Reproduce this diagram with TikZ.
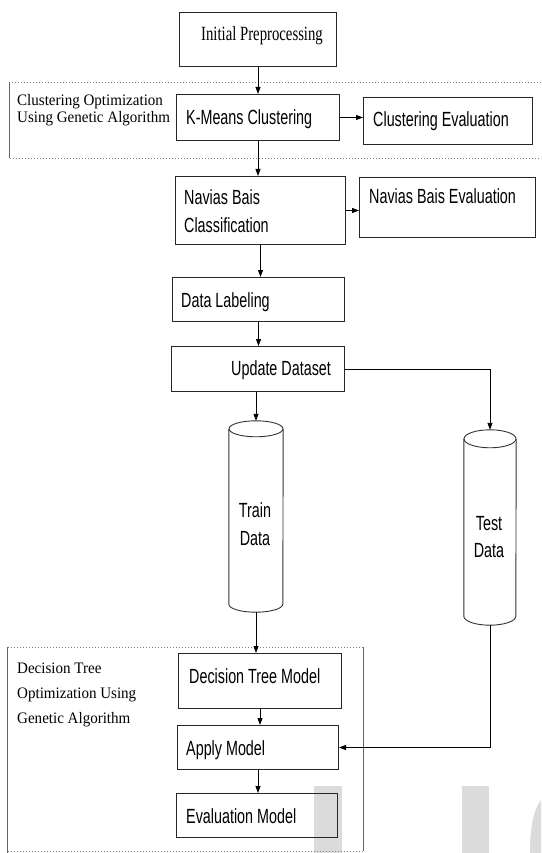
\documentclass[tikz,border=0pt]{standalone}
\usepackage{fontspec}
\usetikzlibrary{arrows.meta,calc,positioning}
\newfontfamily\boxfont[FakeStretch=0.7]{Liberation Sans}
\newfontfamily\headfont[FakeStretch=0.73]{Liberation Serif}
\newfontfamily\groupfont[FakeStretch=0.94]{Liberation Serif}
% cylinder outline round a store node: node, x radius, y radius
\newcommand{\storeoutline}[3]{%
  \draw[store line] ($(#1.north)+(0,#3)$) ellipse [x radius=#2,y radius=#3];
  \draw[store line] ($(#1.north west)+(0,#3)$) -- ($(#1.south west)-(0,#3)$)
    arc[start angle=180,end angle=0,x radius=#2,y radius=#3]
    -- ($(#1.north east)+(0,#3)$);
}
\tikzset{
  flow box/.style={draw=black!85,line width=1pt,inner sep=0pt,anchor=north west},
  flow text/.style={font=\boxfont\fontsize{20.5}{27.5}\selectfont,inner sep=0pt,
    anchor=base west,align=left},
  head text/.style={font=\headfont\fontsize{20.2}{24}\selectfont,inner sep=0pt,
    anchor=base west},
  group text/.style={font=\groupfont\fontsize{16}{17}\selectfont,inner sep=0pt,
    anchor=base west,align=left},
  data store/.style={rectangle,inner sep=0pt},
  store line/.style={draw=black!80,line width=0.9pt},
  flow arrow/.style={-{Triangle[length=7pt,width=5pt]},line width=0.9pt},
  group rule/.style={gray,line width=0.8pt,dash pattern=on 1pt off 2pt},
  group side/.style={black!60,line width=0.8pt},
  mark shade/.style={fill=black!14,draw=none},
}
\begin{document}
\begin{tikzpicture}[x=1pt,y=-1pt]
  \useasboundingbox (0,0) rectangle (541,853);
  % watermark remains at the foot of the page
  \fill[mark shade] (314,786) rectangle (342,853);
  \fill[mark shade] (462,786) rectangle (489,853);
  \fill[mark shade] (541,800) .. controls (533,810) and (530,830) .. (530,853)
    -- (541,853) -- cycle;

  % Preprocessing and clustering
  \node[flow box,minimum width=157,minimum height=54] (init) at (179,12) {};
  \node[head text] (initT) at (201,41) {Initial Preprocessing};
  \node[flow box,minimum width=163,minimum height=46] (km) at (176,94) {};
  \node[flow text] (kmT) at (186,125) {K-Means Clustering};
  \node[flow box,minimum width=169,minimum height=47] (ce) at (363,97) {};
  \node[flow text] (ceT) at (373,127) {Clustering Evaluation};

  % Classification and labeling
  \node[flow box,minimum width=170,minimum height=68] (nb) at (175,176) {};
  \node[flow text] (nbT) at (184,232) {Navias Bais\\Classification};
  \node[flow box,minimum width=176,minimum height=60] (nbe) at (359,177) {};
  \node[flow text] (nbeT) at (369,204) {Navias Bais Evaluation};
  \node[flow box,minimum width=172,minimum height=44] (dl) at (172,277) {};
  \node[flow text] (dlT) at (181,307) {Data Labeling};
  \node[flow box,minimum width=173,minimum height=45] (ud) at (171,346) {};
  \node[flow text] (udT) at (231,375) {Update Dataset};

  % Data stores
  \node[data store,minimum height=191,minimum width=54] (train) at (256,516.5) {};
  \storeoutline{train}{27}{8}
  \node[flow text,anchor=center,align=center] (trainT) at (255,524) {Train\\Data};
  \node[data store,minimum height=195,minimum width=52] (test) at (490,527.5) {};
  \storeoutline{test}{26}{9}
  \node[flow text,anchor=center,align=center] (testT) at (489,537) {Test\\Data};

  % Decision tree stage
  \node[flow box,minimum width=163,minimum height=55] (dtm) at (178,653) {};
  \node[flow text] (dtmT) at (189,683) {Decision Tree Model};
  \node[flow box,minimum width=161,minimum height=44] (am) at (177,725) {};
  \node[flow text] (amT) at (186,755) {Apply Model};
  \node[flow box,minimum width=161,minimum height=44] (em) at (176,793) {};
  \node[flow text] (emT) at (186,823) {Evaluation Model};

  % Optimization groups
  \draw[group rule] (12,82) -- (541,82);
  \draw[group rule] (10,158) -- (541,158);
  \draw[group side] (9,82) -- (9,158);
  \node[group text] (cgaT) at (17,123) {Clustering Optimization\\Using Genetic Algorithm};
  \draw[group rule] (8,647) -- (363,647);
  \draw[group rule] (8,851) -- (363,851);
  \draw[group side] (7,647) -- (7,853);
  \draw[group side] (363,647) -- (363,851);
  \node[group text,font=\groupfont\fontsize{16}{25}\selectfont] (dtgaT) at (17,723)
    {Decision Tree\\Optimization Using\\Genetic Algorithm};

  % Connectors
  \draw[flow arrow] (init.south) -- (init.south |- km.north);
  \draw[flow arrow] (km.east) -- (km.east -| ce.west);
  \draw[flow arrow] (km.south) -- (km.south |- nb.north);
  \draw[flow arrow] (nb.east) -- (nb.east -| nbe.west);
  \draw[flow arrow] (nb.south) -- (nb.south |- dl.north);
  \draw[flow arrow] (dl.south) -- (dl.south |- ud.north);
  \draw[flow arrow] (train.north |- ud.south) -- (train.north);
  \draw[flow arrow] (ud.east) -| (test.north);
  \draw[flow arrow] (train.south) -- (train.south |- dtm.north);
  \draw[flow arrow] (dtm.south) -- (dtm.south |- am.north);
  \draw[flow arrow] (am.south) -- (am.south |- em.north);
  \draw[flow arrow] (test.south) |- (am.east);
\end{tikzpicture}
\end{document}
